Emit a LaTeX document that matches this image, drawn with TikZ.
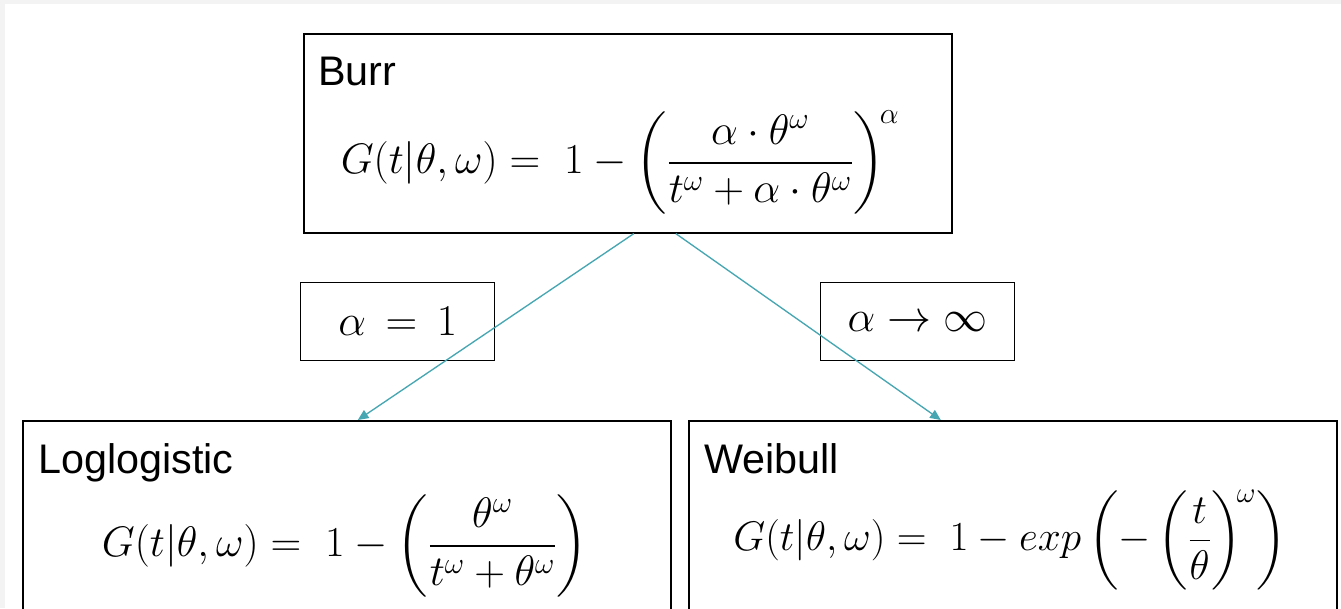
\RequirePackage{fix-cm}
\documentclass[tikz,border=0pt]{standalone}
\usepackage{amsmath,amssymb}
\usepackage{fontspec}
\setmainfont{Liberation Sans}
\usepackage{tikz}
\usetikzlibrary{arrows.meta,calc,positioning}
\definecolor{arrowteal}{HTML}{46A6B1}
\definecolor{pagegray}{HTML}{F3F3F3}

\tikzset{
  famillybox/.style={draw=black,line width=1.2pt,fill=none,inner sep=0pt,anchor=north west},
  limitbox/.style={draw=black,line width=1pt,minimum width=145.5pt,minimum height=58.5pt,inner sep=0pt,anchor=north west},
  famname/.style={anchor=base west,inner sep=0pt,font=\fontsize{31}{36}\selectfont},
  formula/.style={inner sep=0pt,font=\fontsize{32}{38}\selectfont},
  limittext/.style={inner sep=0pt,font=\fontsize{33}{38}\selectfont},
  link/.style={arrowteal,line width=1pt,-{Triangle[length=8pt,width=7pt]}}
}

\begin{document}
\begin{tikzpicture}[x=0.75pt,y=-0.75pt]
  \useasboundingbox (0,0) rectangle (1341,608);
  \fill[pagegray] (0,0) rectangle (1341,608);
  \fill[white] (5,4) rectangle (1341,608);
  \clip (0,0) rectangle (1341,608);

  % the three families
  \node[famillybox,minimum width=486pt,minimum height=149.25pt] (burr) at (303,33) {};
  \node[famillybox,minimum width=486pt,minimum height=187.5pt] (loglog) at (22,420) {};
  \node[famillybox,minimum width=486pt,minimum height=187.5pt] (weibull) at (688,420) {};

  \node[famname] (burrname) at (318,85) {Burr};
  \node[famname] (loglogname) at (38,473) {Loglogistic};
  \node[famname] (weibullname) at (704,473) {Weibull};

  \node[formula] (burreq) at (620,162)
    {$G(t|\theta,\omega) =\; 1 - \left(\dfrac{\alpha\cdot\theta^{\omega}}{t^{\omega}+\alpha\cdot\theta^{\omega}}\right)^{\!\alpha}$};
  \node[formula] (loglogeq) at (345,546)
    {$G(t|\theta,\omega) =\; 1 - \left(\dfrac{\theta^{\omega}}{t^{\omega}+\theta^{\omega}}\right)$};
  \node[formula,font=\fontsize{31}{36}\selectfont] (weibulleq) at (1010,540)
    {$G(t|\theta,\omega) =\; 1 - exp\left(-\left(\dfrac{t}{\theta}\right)^{\!\omega}\right)$};

  % limits
  \node[limitbox] (alphaone) at (300,282) {};
  \node[limittext] at (alphaone.center) {$\alpha\,=\,1$};
  \node[limitbox] (alphainf) at (820,282) {};
  \node[limittext] at (alphainf.center) {$\alpha \rightarrow \infty$};

  % connectors
  \coordinate (fromleft) at ($(burr.south)+(6,0)$);
  \coordinate (fromright) at ($(burr.south)+(48,0)$);
  \draw[link] (fromleft) -- ($(loglog.north)+(11,0)$);
  \draw[link] (fromright) -- ($(weibull.north)+(-72,0)$);
\end{tikzpicture}
\end{document}
